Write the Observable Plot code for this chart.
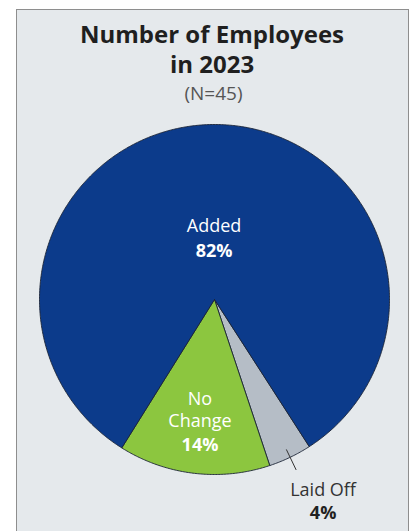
<!DOCTYPE html>
<html>
<head>
<meta charset="utf-8">
<script src="https://cdn.jsdelivr.net/npm/d3@7"></script>
<script src="https://cdn.jsdelivr.net/npm/@observablehq/plot@0.6"></script>
<style>
  html, body { margin: 0; padding: 0; background: #ffffff; }
  body { position: relative; width: 413px; height: 531px; overflow: hidden; font-family: "Open Sans", "Noto Sans", sans-serif; }
  #panel { position: absolute; left: 16px; top: 9px; width: 393px; height: 560px; background: #e5e9ec; border: 1.5px solid #8e8e8e; box-sizing: border-box; }
  #title { position: absolute; left: 0; top: 18.7px; width: 424px; text-align: center; font-size: 24px; line-height: 30px; font-weight: 700; color: #1f1f1f; }
  #sub { position: absolute; left: 0; top: 80.6px; width: 427px; text-align: center; font-size: 19px; line-height: 24px; color: #555; }
  #chart { position: absolute; left: 0; top: 104px; }
</style>
</head>
<body>
<div id="panel"></div>
<div id="title">Number of Employees<br>in 2023</div>
<div id="sub">(N=45)</div>
<div id="chart"></div>
<script>
// ---- data ----
const categories = ["Laid Off", "No Change", "Added"];
const shares = [4, 14, 82];
const pctLabels = ["4%", "14%", "82%"];

// ---- layout / style ----
const colorRange = ["#b5bdc6", "#8cc63f", "#0c3b8b"];
const startDeg = 147.2;      // clockwise from 12 o'clock
const W = 413, H = 427, R = 175, CX = 214, CY = 195;
const rad = d => d * Math.PI / 180;

// build slice polygons from the shares
const slicePts = [];
const mids = {};
let acc = startDeg;
categories.forEach((name, i) => {
  const a0 = acc, a1 = acc + shares[i] / 100 * 360;
  acc = a1;
  mids[name] = (a0 + a1) / 2;
  slicePts.push({name, x: 0, y: 0});
  const n = Math.ceil((a1 - a0) / 0.5);
  for (let k = 0; k <= n; k++) {
    const a = rad(a0 + (a1 - a0) * k / n);
    slicePts.push({name, x: Math.sin(a), y: Math.cos(a)});
  }
  slicePts.push({name, x: 0, y: 0});
});

const place = {
  "Added":     {r: 0.35, da: 0,    nameDy: -13,  pctDy: 13, fill: "#ffffff", pctFill: "#ffffff"},
  "No Change": {r: 0.70, da: 0,    nameDy: -12.3, pctDy: 24, fill: "#ffffff", pctFill: "#ffffff"},
  "Laid Off":  {r: 1.28, da: -3.4, nameDy: -7,   pctDy: 18, fill: "#333333", pctFill: "#222222"}
};

const labels = categories.map((name, i) => {
  const p = place[name];
  const a = rad(mids[name] + p.da);
  return {name, pct: pctLabels[i], x: p.r * Math.sin(a), y: p.r * Math.cos(a), ...p};
});

const laidMid = rad(mids["Laid Off"]);
const leader = [{x1: 0.95 * Math.sin(laidMid), y1: 0.95 * Math.cos(laidMid), x2: 1.08 * Math.sin(laidMid), y2: 1.08 * Math.cos(laidMid)}];

const chart = Plot.plot({
  width: W,
  height: H,
  marginLeft: CX - R,
  marginRight: W - CX - R,
  marginTop: CY - R,
  marginBottom: H - CY - R,
  style: {background: "transparent", fontFamily: "'Open Sans', 'Noto Sans', sans-serif"},
  x: {domain: [-1, 1], axis: null},
  y: {domain: [-1, 1], axis: null},
  color: {domain: categories, range: colorRange},
  marks: [
    Plot.line(slicePts, {x: "x", y: "y", z: "name", fill: "name", stroke: "#1b2436", strokeWidth: 0.9, strokeLinejoin: "round"}),
    Plot.link(leader, {x1: "x1", y1: "y1", x2: "x2", y2: "y2", stroke: "#333", strokeWidth: 1}),
    ...labels.map(l => Plot.text([l], {
      x: "x", y: "y",
      text: d => d.name === "No Change" ? "No\nChange" : d.name,
      dy: l.nameDy, fill: l.fill, fontSize: 18, lineHeight: 1.25
    })),
    ...labels.map(l => Plot.text([l], {
      x: "x", y: "y", text: "pct",
      dy: l.pctDy, fill: l.pctFill, fontSize: 18, fontWeight: 700
    }))
  ]
});
document.getElementById("chart").appendChild(chart);
</script>
</body>
</html>
